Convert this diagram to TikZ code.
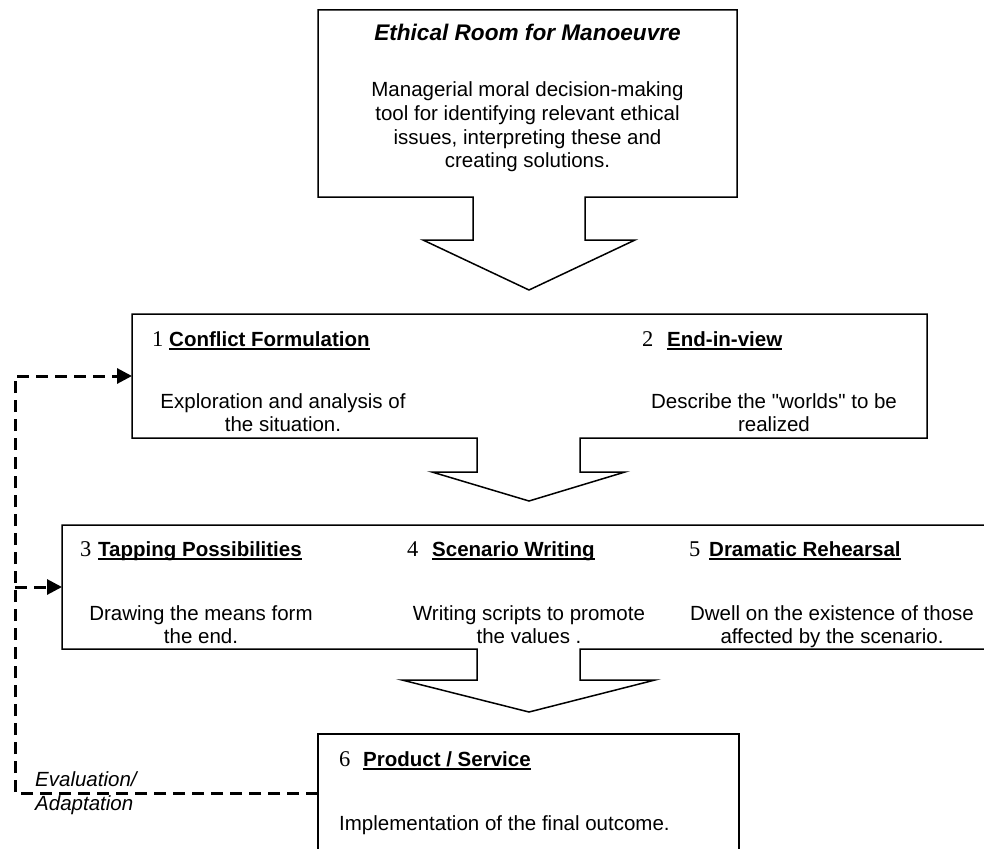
\documentclass[tikz,border=0pt]{standalone}
\usepackage{fontspec}
\setmainfont{Liberation Sans}[Ligatures=TeXOff]
\newfontfamily\numfont{Liberation Serif}
\usetikzlibrary{arrows.meta}
\newcommand\hdul[1]{\setbox0\hbox{\bfseries #1}\rlap{\rule[-4.3pt]{\wd0}{2pt}}\box0}
\tikzset{
  outline/.style={draw=black, line width=1.5pt, line join=miter},
  region/.style={inner sep=0pt, outer sep=0pt, draw=none, rectangle},
  body/.style={inner sep=0pt, font=\fontsize{20.5}{23.5}\selectfont, align=center, anchor=base},
  head/.style={inner sep=0pt, font=\fontsize{20.5}{23.5}\selectfont, anchor=base west},
  num/.style={inner sep=0pt, font=\numfont\fontsize{22.5}{25}\selectfont, anchor=base west},
  titletext/.style={inner sep=0pt, font=\fontsize{22.6}{25}\selectfont\bfseries\itshape, anchor=base},
  lbl/.style={inner sep=0pt, font=\fontsize{20.5}{23.5}\selectfont\itshape, align=left, anchor=base west},
  fb/.style={line width=3pt, dash pattern=on 12pt off 7pt, -{Triangle[length=15pt,width=15pt]}},
}
\begin{document}
\begin{tikzpicture}[x=1pt,y=-1pt]
\useasboundingbox (0,0) rectangle (984,848);
\clip (0,0) rectangle (984,848);
\fill[white] (0,0) rectangle (984,848);

% invisible box regions
\node[region, minimum width=419pt, minimum height=187pt] (b1) at (527.5,103.5) {};
\node[region, minimum width=795pt, minimum height=124pt] (b2) at (529.5,376) {};
\node[region, minimum width=930pt, minimum height=124pt] (b3) at (527,587) {};
\node[region, minimum width=421pt, minimum height=118pt] (b6) at (528.5,793) {};

% outlines with block arrows
\draw[outline] (b1.north west) -- (b1.north east) -- (b1.south east) -- (585,197) -- (585,240) -- (635,240) -- (529,290) -- (423,240) -- (473,240) -- (473,197) -- (b1.south west) -- cycle;
\draw[outline] (b2.north west) -- (b2.north east) -- (b2.south east) -- (580,438) -- (580,472) -- (625,472) -- (529,501) -- (432,472) -- (477,472) -- (477,438) -- (b2.south west) -- cycle;
\draw[outline] (b3.north west) -- (b3.north east) -- (b3.south east) -- (580,649) -- (580,680) -- (655,680) -- (529,712) -- (402,680) -- (477,680) -- (477,649) -- (b3.south west) -- cycle;
\draw[outline] (b6.north west) -- (b6.north east) -- (b6.south east) -- (b6.south west) -- cycle;

% box 1 text (multi-line nodes: base anchor = last line baseline)
\node[titletext] (t1) at (527.5,41) {Ethical Room for Manoeuvre};
\node[body] (d1) at (527.5,167.5) {Managerial moral decision-making\\tool for identifying relevant ethical\\issues, interpreting these and\\creating solutions.};

% box 2 text
\node[num] (n1) at (152,346) {1};
\node[head] (h1) at (169,346) {\hdul{Conflict Formulation}};
\node[body] (d2) at (283,431.5) {Exploration and analysis of\\the situation.};
\node[num] (n2) at (642,346) {2};
\node[head] (h2) at (667,346) {\hdul{End-in-view}};
\node[body] (d3) at (774,431.5) {Describe the "worlds" to be\\realized};

% box 3 text
\node[num] (n3) at (80,556) {3};
\node[head] (h3) at (98,556) {\hdul{Tapping Possibilities}};
\node[num] (n4) at (407,556) {4};
\node[head] (h4) at (432,556) {\hdul{Scenario Writing}};
\node[num] (n5) at (689,556) {5};
\node[head] (h5) at (709,556) {\hdul{Dramatic Rehearsal}};
\node[body] (d4) at (201,643.5) {Drawing the means form\\the end.};
\node[body] (d5) at (529,643.5) {Writing scripts to promote\\the values .};
\node[body] (d7) at (832,643.5) {Dwell on the existence of those\\affected by the scenario.};

% box 6 text
\node[num] (n6) at (339,766) {6};
\node[head] (h6) at (363,766) {\hdul{Product / Service}};
\node[head] (d6) at (339,830) {Implementation of the final outcome.};

% feedback loop
\coordinate (cB) at (15,793);
\coordinate (cT) at (15,376);
\draw[fb] (b6.west) -- (cB) -- (cT) -- (b2.west);
\draw[fb] (cB |- b3.west) -- (b3.west);
\node[lbl] (ev) at (35,810) {Evaluation/\\Adaptation};
\end{tikzpicture}
\end{document}
